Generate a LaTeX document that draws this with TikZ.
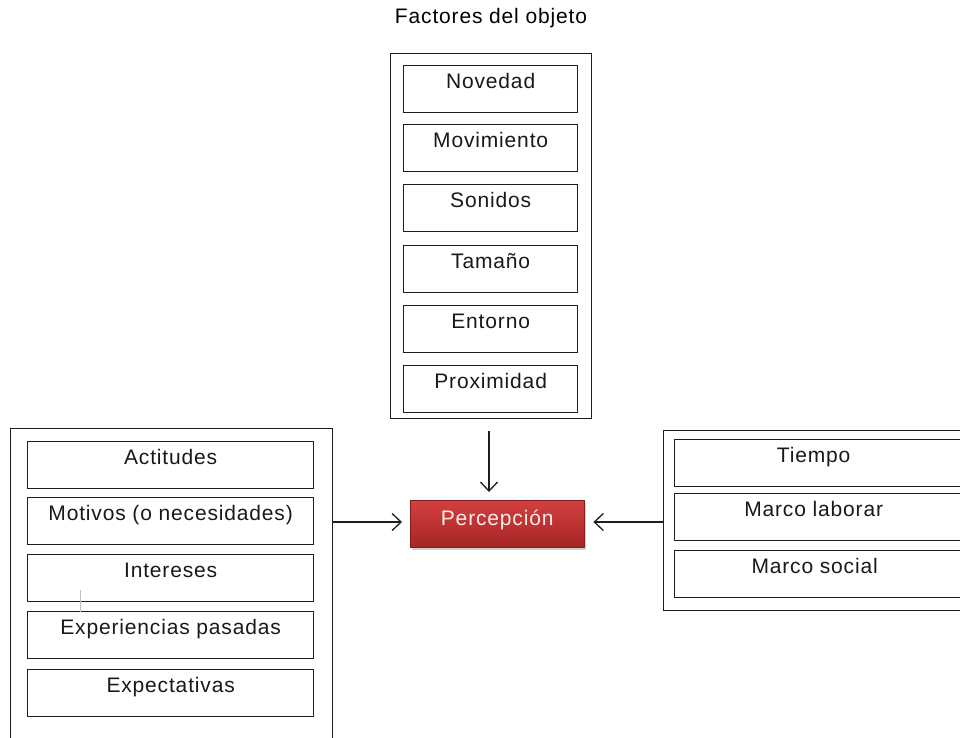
\documentclass[tikz,border=0pt]{standalone}
\usepackage{fontspec}
\setmainfont[LetterSpace=4]{Liberation Sans}
\usetikzlibrary{arrows.meta,shadows}
\definecolor{linec}{HTML}{1E1E1E}
\definecolor{redtop}{HTML}{D43F3F}
\definecolor{redbot}{HTML}{A52626}
\begin{document}
\begin{tikzpicture}[x=1pt,y=-1pt,
  font=\fontsize{21}{25}\selectfont,
  outer/.style={draw=linec,line width=1.3pt,inner sep=0pt,anchor=north west},
  item/.style={draw=linec,line width=1.3pt,inner sep=0pt,anchor=north west,
    text height=23pt,text depth=24pt,text=black!90},
  conn/.style={draw=linec,line width=1.3pt,-{Straight Barb[length=9pt,width=17pt]}},
  perc/.style={inner sep=0pt,anchor=north west,top color=redtop,bottom color=redbot,
    draw=redbot!80!black,line width=0.4pt,text=white!93!red,
    drop shadow={opacity=0.35,shadow xshift=2pt,shadow yshift=-3pt},
    text height=25pt,text depth=22pt}
]
\clip (0,0) rectangle (960,737);
\fill[white] (0,0) rectangle (960,737);

\node (title) at (491,18) {Factores del objeto};

% top group
\node[outer,minimum width=201pt,minimum height=365pt] (T) at (390,53) {};
\node[item,minimum width=174pt] (n1) at (403,65) {Novedad};
\node[item,minimum width=174pt] (n2) at (403,124) {Movimiento};
\node[item,minimum width=174pt] (n3) at (403,184) {Sonidos};
\node[item,minimum width=174pt] (n4) at (403,245) {Tamaño};
\node[item,minimum width=174pt] (n5) at (403,305) {Entorno};
\node[item,minimum width=174pt] (n6) at (403,365) {Proximidad};

% left group
\node[outer,minimum width=322pt,minimum height=340pt] (L) at (10,428) {};
\node[item,minimum width=286pt] (l1) at (27,441) {Actitudes};
\node[item,minimum width=286pt] (l2) at (27,497) {Motivos (o necesidades)};
\node[item,minimum width=286pt] (l3) at (27,554) {Intereses};
\node[item,minimum width=286pt] (l4) at (27,611) {Experiencias pasadas};
\node[item,minimum width=286pt] (l5) at (27,669) {Expectativas};
\draw[black!25,line width=0.8pt] (80,590) -- (80,612);

% right group
\node[outer,minimum width=320pt,minimum height=180pt] (R) at (663,430) {};
\node[item,minimum width=300pt] (r1) at (674,439) {\makebox[278pt]{Tiempo}\hspace*{22pt}};
\node[item,minimum width=300pt] (r2) at (674,493) {\makebox[278pt]{Marco laborar}\hspace*{22pt}};
\node[item,minimum width=300pt] (r3) at (674,550) {\makebox[280pt]{Marco social}\hspace*{20pt}};

% center
\node[perc,minimum width=174pt,minimum height=47pt] (P) at (410,500) {Percepción};

% connectors
\draw[conn,shorten <=12pt,shorten >=8pt] (T.south -| 489,0) -- (P.north -| 489,0);
\draw[conn,shorten >=8pt] (L.east |- 0,522) -- (P.west |- 0,522);
\draw[conn,shorten >=9pt] (R.west |- 0,522) -- (P.east |- 0,522);
\end{tikzpicture}
\end{document}
